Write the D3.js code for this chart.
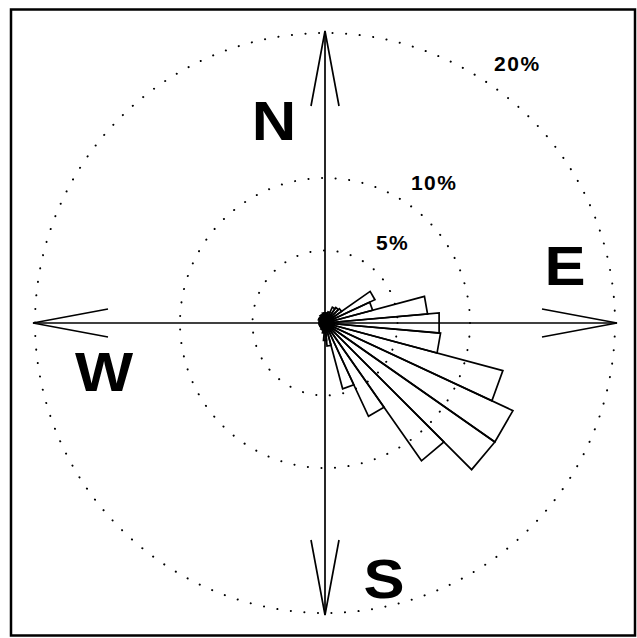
<!DOCTYPE html>
<html>
<head>
<meta charset="utf-8">
<script src="https://cdnjs.cloudflare.com/ajax/libs/d3/7.8.5/d3.min.js"></script>
<style>
body { margin: 0; background: #fff; }
</style>
</head>
<body>
<script>
// wind direction sectors (degrees from north, clockwise)
var directions = [0, 10, 20, 30, 40, 50, 60, 70, 80, 90, 100, 110,
	120, 130, 140, 150, 160, 170, 180, 190, 200, 210, 220, 230,
	240, 250, 260, 270, 280, 290, 300, 310, 320, 330, 340, 350];

// share of time wind blows from each sector (%)
var frequency = [0.7, 0.7, 0.8, 1.2, 1.3, 1.4, 3.8, 3.4, 7.1, 7.9, 8.0, 12.7,
	14.3, 14.3, 11.6, 7.1, 4.7, 1.6, 1.2, 0.7, 0.5, 0.5, 0.4, 0.4,
	0.4, 0.4, 0.4, 0.4, 0.4, 0.4, 0.5, 0.5, 0.5, 0.6, 0.6, 0.7];

// reference rings
var ringValues = [5, 10, 20];
var ringLabels = ["5%", "10%", "20%"];

// compass
var compassLabels = ["N", "E", "S", "W"];
var compassBearings = [0, 90, 180, 270];

drawRose("body");

function drawRose(area) {
	// doc dimensions
	var width = 637;
	var height = 638;
	var cx = 325;
	var cy = 323;

	// arrow dimensions
	var armLen = 292;
	var headLen = 75;
	var headHalf = 14;

	var r = d3.scaleLinear().domain([0, 20]).range([0, 290]);

	function polar(bearing, radius) {
		var a = bearing * Math.PI / 180;
		return [cx + radius * Math.sin(a), cy - radius * Math.cos(a)];
	}

	var svg = d3.select(area).append("svg")
		.attr("width", width)
		.attr("height", height);

	// frame
	svg.append("rect")
		.attr("x", 11)
		.attr("y", 9.5)
		.attr("width", 624)
		.attr("height", 626)
		.attr("fill", "none")
		.attr("stroke", "black")
		.attr("stroke-width", 2.5);

	// dotted rings
	svg.selectAll("circle.ring")
		.data(ringValues)
		.enter()
		.append("circle")
		.attr("class", "ring")
		.attr("cx", cx)
		.attr("cy", cy)
		.attr("r", function(d) { return r(d); })
		.attr("fill", "none")
		.attr("stroke", "black")
		.attr("stroke-width", 2)
		.attr("stroke-linecap", "round")
		.attr("stroke-dasharray", "0.1 13.5");

	// ring labels
	svg.selectAll("text.ring")
		.data(ringValues)
		.enter()
		.append("text")
		.attr("class", "ring")
		.attr("x", function(d) { return polar(35, r(d))[0] + 26; })
		.attr("y", function(d) { return polar(35, r(d))[1] - 14; })
		.attr("text-anchor", "middle")
		.attr("font-family", "Liberation Sans, Arial, sans-serif")
		.attr("font-weight", "bold")
		.attr("font-size", 21)
		.attr("letter-spacing", 1.5)
		.text(function(d, i) { return ringLabels[i]; });

	// compass arms
	var arms = svg.selectAll("g.arm")
		.data(compassBearings)
		.enter()
		.append("g")
		.attr("class", "arm")
		.attr("stroke", "black")
		.attr("stroke-width", 1.7)
		.attr("fill", "none");

	arms.append("line")
		.attr("x1", cx)
		.attr("y1", cy)
		.attr("x2", function(d) { return polar(d, armLen)[0]; })
		.attr("y2", function(d) { return polar(d, armLen)[1]; });

	var headAng = Math.atan(headHalf / (armLen - headLen)) * 180 / Math.PI;
	var headRad = Math.sqrt(Math.pow(armLen - headLen, 2) + headHalf * headHalf);

	arms.append("path")
		.attr("stroke-linejoin", "miter")
		.attr("d", function(d) {
			var a = polar(d - headAng, headRad);
			var t = polar(d, armLen);
			var b = polar(d + headAng, headRad);
			return "M" + a + "L" + t + "L" + b;
		});

	// wedges
	svg.selectAll("path.wedge")
		.data(directions)
		.enter()
		.append("path")
		.attr("class", "wedge")
		.attr("d", function(d, i) {
			var p1 = polar(d - 5, r(frequency[i]));
			var p2 = polar(d + 5, r(frequency[i]));
			return "M" + [cx, cy] + "L" + p1 + "L" + p2 + "Z";
		})
		.attr("fill", "none")
		.attr("stroke", "black")
		.attr("stroke-width", 1.7)
		.attr("stroke-linejoin", "miter");

	// compass letters
	var letterPos = {"N": [274, 140], "E": [565, 285], "S": [384, 598], "W": [104, 391]};

	svg.selectAll("text.compass")
		.data(compassLabels)
		.enter()
		.append("text")
		.attr("class", "compass")
		.attr("text-anchor", "middle")
		.attr("font-family", "Liberation Sans, Arial, sans-serif")
		.attr("font-weight", "bold")
		.attr("font-size", 55)
		.attr("transform", function(d) {
			return "translate(" + letterPos[d] + ") scale(1.12,1)";
		})
		.text(function(d) { return d; });
}
</script>
</body>
</html>
